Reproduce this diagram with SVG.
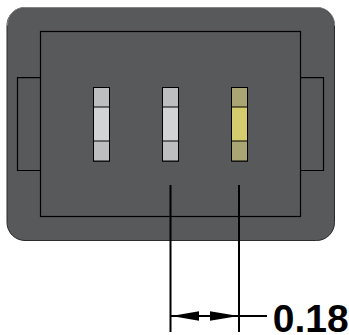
<svg xmlns="http://www.w3.org/2000/svg" width="349" height="335" viewBox="0 0 349 335">
<style>
.ln{fill:none;stroke:#000;stroke-width:1.2}
.end{fill:#bdbec0;stroke:#000;stroke-width:1}
.mid{fill:#d2d3d5;stroke:#000;stroke-width:1}
.yend{fill:#a9a674;stroke:#000;stroke-width:1}
.ymid{fill:#d5cd6d;stroke:#000;stroke-width:1}
.dim{fill:none;stroke:#000;stroke-width:2}
text{font-family:"Liberation Sans",Arial,sans-serif;font-weight:700;font-size:39px;fill:#000}
</style>
<g id="body">
<rect x="7" y="7.5" width="327.5" height="233" rx="18" ry="18" fill="#58595b" stroke="#2b2b2b" stroke-width="1"/>
<path d="M7.5 25.5A17 17 0 0 1 25 7.5H317A17 17 0 0 1 334.5 25.5" fill="none" stroke="#9a9b9d" stroke-width="0.8"/>
<rect x="40.5" y="31.5" width="260" height="185" class="ln"/>
<path d="M40.5 77.7H17.5V170.5H40.5" class="ln"/>
<path d="M300.5 77.7H323.5V170.5H300.5" class="ln"/>
</g>
<g id="pin1">
<rect x="93.5" y="87.5" width="16" height="73.5" class="mid"/>
<rect x="93.5" y="87.5" width="16" height="19.5" class="end"/>
<rect x="93.5" y="141" width="16" height="20" class="end"/>
</g>
<g id="pin2">
<rect x="162.5" y="87.5" width="16" height="73.5" class="mid"/>
<rect x="162.5" y="87.5" width="16" height="19.5" class="end"/>
<rect x="162.5" y="141" width="16" height="20" class="end"/>
</g>
<g id="pin3">
<rect x="231.5" y="87.5" width="16" height="73.5" class="ymid"/>
<rect x="231.5" y="87.5" width="16" height="19.5" class="yend"/>
<rect x="231.5" y="141" width="16" height="20" class="yend"/>
</g>
<g id="connectors">
<path d="M170.5 185V332M239 185V332M171 316H267" class="dim"/>
<path d="M171.5 316L199 311.2V320.8Z" fill="#000"/>
<path d="M238.5 316L210 311.2V320.8Z" fill="#000"/>
</g>
<g id="label"><text x="272.7" y="332.2">0.18</text></g>
</svg>
